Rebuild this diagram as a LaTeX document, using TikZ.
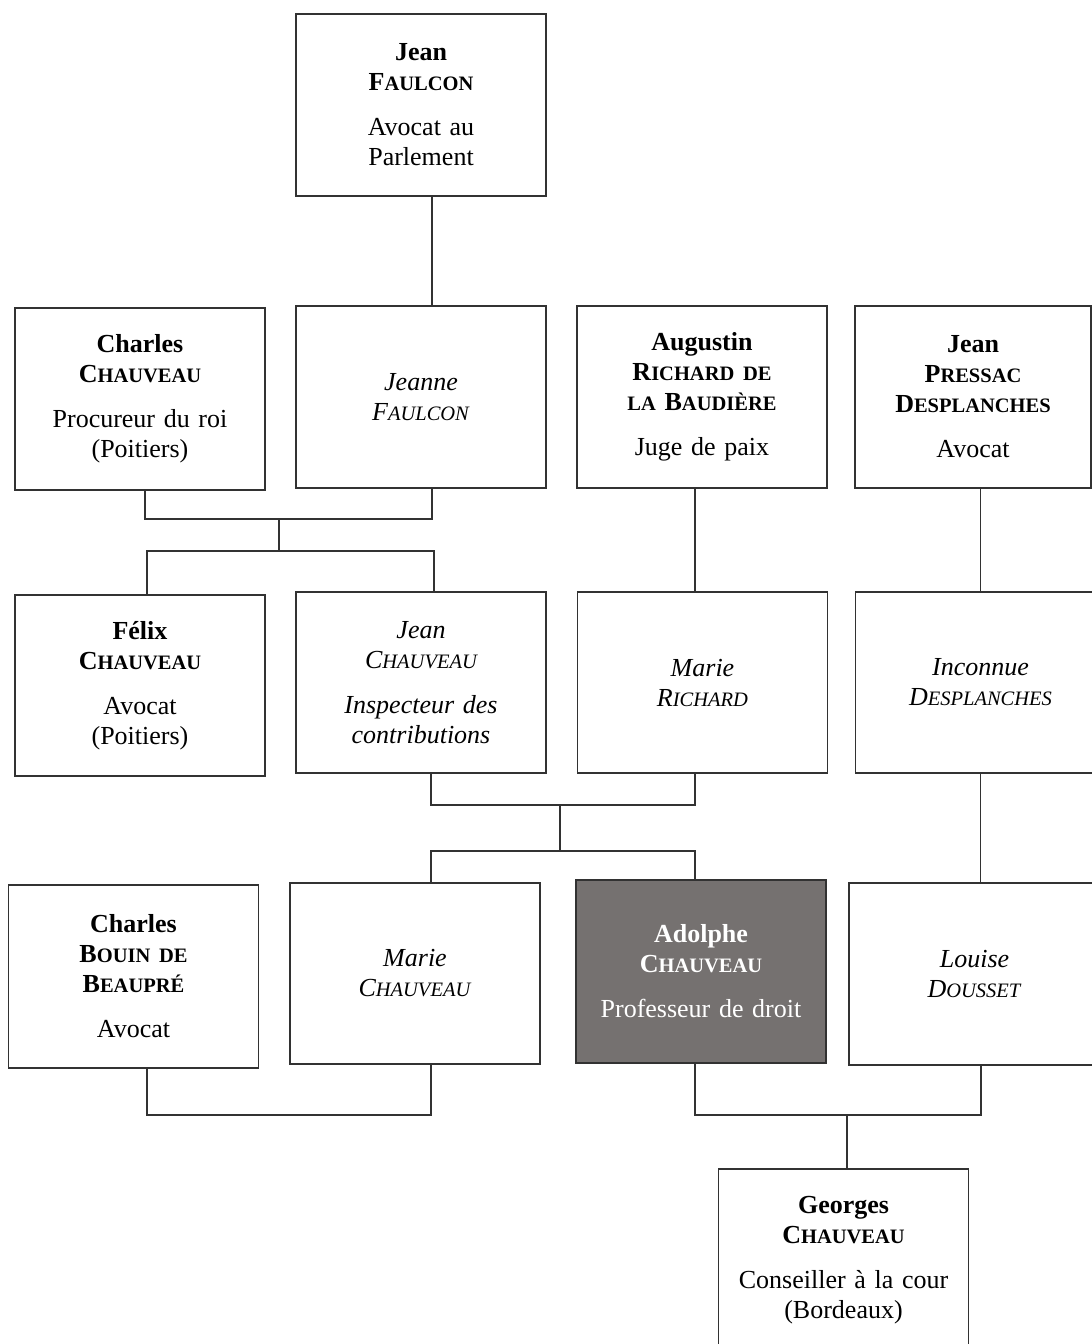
\documentclass[tikz,border=0pt]{standalone}
\usepackage{fontspec}
\setmainfont{Liberation Serif}
\newcommand\SC[1]{{\fontsize{20.5}{30}\selectfont #1}}
\definecolor{linegray}{RGB}{50,50,50}
\definecolor{hilite}{RGB}{117,113,112}
\begin{document}
\begin{tikzpicture}[x=1pt,y=-1pt,
  person/.style={draw=linegray, line width=1.2pt, fill=white, inner sep=0pt,
    minimum width=250pt, minimum height=182pt, text width=236pt, align=center,
    font=\fontsize{26}{30}\selectfont},
  link/.style={draw=linegray, line width=1.2pt}]
\useasboundingbox (0,0) rectangle (1092,1344);

% generation 1
\node[person] (JF) at (421,105) {\textbf{Jean\\F\SC{AULCON}}\\[15pt]Avocat au\\Parlement};

% generation 2
\node[person] (CC) at (140,399) {\textbf{Charles\\C\SC{HAUVEAU}}\\[15pt]Procureur du roi\\(Poitiers)};
\node[person] (JnF) at (421,397) {\textit{Jeanne\\F\SC{AULCON}}};
\node[person] (AR) at (702,397) {\textbf{Augustin\\R\SC{ICHARD DE}\\\SC{LA} B\SC{AUDIÈRE}}\\[15pt]Juge de paix};
\node[person, minimum width=236pt, text width=226pt] (JP) at (973,397) {\textbf{Jean\\P\SC{RESSAC}\\D\SC{ESPLANCHES}}\\[15pt]Avocat};

% generation 3
\node[person, minimum height=181pt] (FC) at (140,685.5) {\textbf{Félix\\C\SC{HAUVEAU}}\\[15pt]Avocat\\(Poitiers)};
\node[person, minimum height=181pt] (JC) at (421,682.5) {\textit{Jean\\C\SC{HAUVEAU}\\[15pt]Inspecteur des\\contributions}};
\node[person, minimum height=181pt] (MR) at (702.5,682.5) {\textit{Marie\\R\SC{ICHARD}}};
\node[person, minimum height=181pt] (ID) at (980.5,682.5) {\textit{Inconnue\\D\SC{ESPLANCHES}}};

% generation 4
\node[person, minimum height=183pt] (CB) at (133.5,976.5) {\textbf{Charles\\B\SC{OUIN DE}\\B\SC{EAUPRÉ}}\\[15pt]Avocat};
\node[person, minimum height=181pt] (MC) at (415,973.5) {\textit{Marie\\C\SC{HAUVEAU}}};
\node[person, minimum height=183pt, fill=hilite, text=white] (AC) at (701,971.5) {\textbf{Adolphe\\C\SC{HAUVEAU}}\\[15pt]Professeur de droit};
\node[person, minimum width=251pt] (LD) at (974.5,974) {\textit{Louise\\D\SC{OUSSET}}};

% generation 5
\node[person] (GC) at (843.5,1260) {\textbf{Georges\\C\SC{HAUVEAU}}\\[15pt]Conseiller à la cour\\(Bordeaux)};

% junction points
\coordinate (u1) at (279,519);
\coordinate (d1) at (279,551);
\coordinate (u2) at (560,805);
\coordinate (d2) at (560,851);
\coordinate (u3) at (289,1115);
\coordinate (u4) at (847,1115);

% connectors
\draw[link] ([xshift=11pt]JF.south) -- ([xshift=11pt]JnF.north);
\draw[link] ([xshift=5pt]CC.south) |- (u1) -| ([xshift=11pt]JnF.south);
\draw[link] (u1) -- (d1);
\draw[link] ([xshift=7pt]FC.north) |- (d1) -| ([xshift=13pt]JC.north);

\draw[link] ([xshift=-7pt]AR.south) -- ([xshift=-7.5pt]MR.north);
\draw[link] (ID.north |- JP.south) -- (ID.north);

\draw[link] ([xshift=10pt]JC.south) |- (u2) -| ([xshift=-7.5pt]MR.south);
\draw[link] (u2) -- (d2);
\draw[link] ([xshift=16pt]MC.north) |- (d2) -| ([xshift=-6pt]AC.north);

\draw[link] (ID.south) -- (ID.south |- LD.north);

\draw[link] ([xshift=13.5pt]CB.south) |- (u3) -| ([xshift=16pt]MC.south);
\draw[link] ([xshift=-6pt]AC.south) |- (u4) -| ([xshift=6.5pt]LD.south);
\draw[link] (u4) -- (u4 |- GC.north);
\end{tikzpicture}
\end{document}
